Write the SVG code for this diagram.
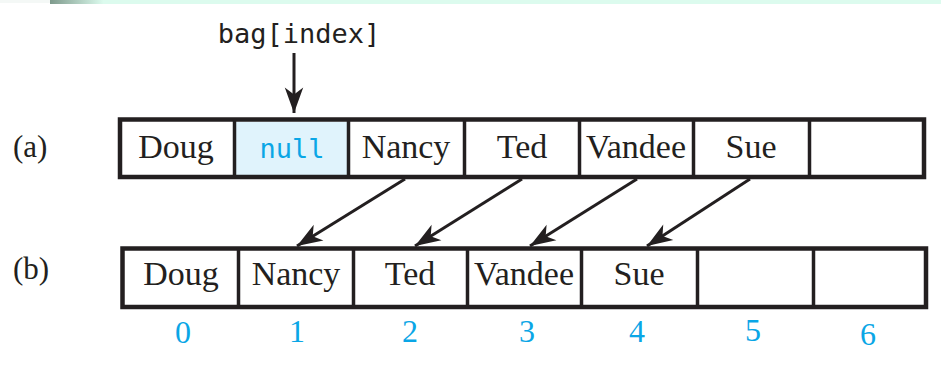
<svg xmlns="http://www.w3.org/2000/svg" width="941" height="371" viewBox="0 0 941 371">
<defs>
<linearGradient id="band" x1="0" y1="0" x2="1" y2="0">
<stop offset="0" stop-color="#7e9a8c"/>
<stop offset="0.06" stop-color="#dcfbee"/>
<stop offset="1" stop-color="#dcfbee"/>
</linearGradient>
<marker id="ah" markerUnits="userSpaceOnUse" markerWidth="30" markerHeight="30" viewBox="-24 -10 26 20" refX="0" refY="0" orient="auto">
<path d="M0,0 L-22,-8 L-16,0 L-22,8 Z" fill="#231f20"/>
</marker>
</defs>
<style>
.frame{fill:none;stroke:#231f20;stroke-width:4.5}
.div{stroke:#231f20;stroke-width:3.5}
.cell{font-family:"Liberation Serif","Times New Roman",serif;font-size:34px;fill:#231f20;text-anchor:middle}
.lbl{font-family:"Liberation Serif","Times New Roman",serif;font-size:31px;fill:#231f20}
.idx{font-family:"Liberation Serif","Times New Roman",serif;font-size:32px;fill:#0aa6e6;text-anchor:middle}
.mono{font-family:"DejaVu Sans Mono","Liberation Mono",monospace}
.conn{stroke:#231f20;stroke-width:3;fill:none;marker-end:url(#ah)}
</style>
<rect x="50" y="0" width="891" height="4" fill="url(#band)"/>
<rect x="0" y="0" width="50" height="3" fill="#f4f8f6"/>

<g id="pointer">
<text x="299" y="43" class="mono" font-size="27" fill="#231f20" text-anchor="middle">bag[index]</text>
</g>

<g id="label-a"><text x="13" y="157" class="lbl">(a)</text></g>
<g id="label-b"><text x="13" y="279" class="lbl">(b)</text></g>

<g id="array-a">
<rect x="236" y="122" width="111" height="53" fill="#e0f3fc"/>
<rect class="frame" x="120" y="119.5" width="804" height="57.5"/>
<line class="div" x1="234.5" y1="119" x2="234.5" y2="177"/>
<line class="div" x1="348.5" y1="119" x2="348.5" y2="177"/>
<line class="div" x1="464.5" y1="119" x2="464.5" y2="177"/>
<line class="div" x1="579.5" y1="119" x2="579.5" y2="177"/>
<line class="div" x1="693.5" y1="119" x2="693.5" y2="177"/>
<line class="div" x1="809.5" y1="119" x2="809.5" y2="177" stroke-width="4"/>
<g id="a0"><text class="cell" x="176" y="158">Doug</text></g>
<g id="a1"><text class="mono" x="292" y="158" font-size="27" fill="#0aa6e6" text-anchor="middle">null</text></g>
<g id="a2"><text class="cell" x="406" y="158">Nancy</text></g>
<g id="a3"><text class="cell" x="522" y="158">Ted</text></g>
<g id="a4"><text class="cell" x="636" y="158">Vandee</text></g>
<g id="a5"><text class="cell" x="751" y="158">Sue</text></g>
<g id="a6"></g>
</g>

<g id="array-b">
<rect class="frame" x="122.5" y="248.5" width="803.5" height="58.5"/>
<line class="div" x1="238.5" y1="248" x2="238.5" y2="307"/>
<line class="div" x1="353.5" y1="248" x2="353.5" y2="307"/>
<line class="div" x1="467.5" y1="248" x2="467.5" y2="307"/>
<line class="div" x1="581.5" y1="248" x2="581.5" y2="307"/>
<line class="div" x1="697.5" y1="248" x2="697.5" y2="307"/>
<line class="div" x1="813.5" y1="248" x2="813.5" y2="307" stroke-width="4"/>
<g id="b0"><text class="cell" x="181" y="285">Doug</text></g>
<g id="b1"><text class="cell" x="296" y="285">Nancy</text></g>
<g id="b2"><text class="cell" x="410" y="285">Ted</text></g>
<g id="b3"><text class="cell" x="524" y="285">Vandee</text></g>
<g id="b4"><text class="cell" x="639" y="285">Sue</text></g>
<g id="b5"></g>
<g id="b6"></g>
</g>

<g id="indices">
<text class="idx" x="183" y="343">0</text>
<text class="idx" x="297" y="342">1</text>
<text class="idx" x="410" y="342">2</text>
<text class="idx" x="527" y="342">3</text>
<text class="idx" x="637" y="342">4</text>
<text class="idx" x="753" y="341">5</text>
<text class="idx" x="868" y="345">6</text>
</g>

<g id="connectors">
<line class="conn" x1="294" y1="53" x2="294" y2="113"/>
<line class="conn" x1="405" y1="179" x2="297" y2="246"/>
<line class="conn" x1="522" y1="179" x2="415" y2="246"/>
<line class="conn" x1="637" y1="179" x2="530" y2="246"/>
<line class="conn" x1="750" y1="179" x2="647" y2="246"/>
</g>
</svg>
